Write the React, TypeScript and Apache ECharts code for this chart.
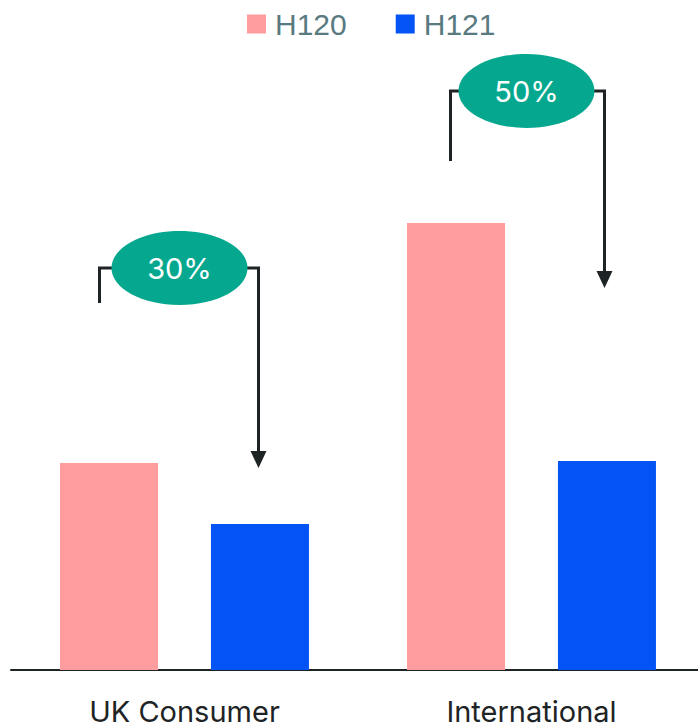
import React, { useEffect, useRef } from "react";
import * as echarts from "echarts";

// Segments and half-year values
const categories = ["UK Consumer", "International"];
const seriesNames = ["H120", "H121"];
const h120 = [207, 447];
const h121 = [146, 209];

// Change callouts per segment
const changeLabels = ["30%", "50%"];
const calloutLevel = [402, 579]; // height of the bracket / ellipse centre
const calloutStart = [367, 509]; // bottom of the left leg
const arrowEnd = [202, 382]; // arrow tip value

const PINK = "#ff9c9e";
const BLUE = "#0353f5";
const TEAL = "#05a88e";
const INK = "#1e2426";
const FONT = "Inter, 'Noto Sans', sans-serif";
const LEGEND_FONT = "'Liberation Sans', Arial, sans-serif";

export default function App() {
  const ref = useRef<HTMLDivElement>(null);

  useEffect(() => {
    if (!ref.current) return;
    const chart = echarts.init(ref.current, undefined, { renderer: "svg" });

    chart.setOption({
      animation: false,
      legend: {
        top: 9,
        left: 247,
        padding: 0,
        icon: "rect",
        itemWidth: 19,
        itemHeight: 19,
        itemGap: 49,
        data: seriesNames,
        textStyle: {
          fontFamily: LEGEND_FONT,
          fontSize: 30,
          lineHeight: 29,
          color: "#587a80",
          padding: [0, 0, 0, 4],
        },
      },
      grid: {
        left: 11,
        right: -7,
        top: 70,
        bottom: 58,
        containLabel: false,
        outerBoundsMode: "none",
      },
      xAxis: {
        type: "category",
        data: categories,
        axisTick: { show: false },
        axisLine: { lineStyle: { color: INK, width: 2 } },
        axisLabel: {
          fontFamily: FONT,
          fontSize: 29,
          color: INK,
          margin: 27,
        },
      },
      yAxis: {
        type: "value",
        min: 0,
        max: 600,
        show: false,
        splitLine: { show: false },
      },
      series: [
        {
          name: seriesNames[0],
          type: "bar",
          data: h120,
          barWidth: 98,
          barGap: "54%",
          itemStyle: { color: PINK },
        },
        {
          name: seriesNames[1],
          type: "bar",
          data: h121,
          barWidth: 98,
          barGap: "54%",
          itemStyle: { color: BLUE },
        },
      ],
    });

    // Callouts: bracket from the H120 bar up to a badge, then an arrow down towards H121
    const elements: any[] = [];
    const lineStyle = { stroke: INK, lineWidth: 3, fill: "none" };
    categories.forEach((cat, i) => {
      const pivot = chart.convertToPixel({ xAxisIndex: 0, yAxisIndex: 0 }, [cat, calloutLevel[i]]) as number[];
      const cx = pivot[0];
      const cy = pivot[1];
      const startY = chart.convertToPixel({ yAxisIndex: 0 }, calloutStart[i]) as number;
      const endY = chart.convertToPixel({ yAxisIndex: 0 }, arrowEnd[i]) as number;
      const leftX = cx - 85 + (i === 1 ? 4 : 0);
      const rightX = cx + 74 + (i === 1 ? -1 : 0);
      const ex = cx - 5;
      const rx = 68;
      const ry = 37;
      elements.push({
        type: "polyline",
        shape: { points: [[leftX, startY], [leftX, cy], [ex - rx + 2, cy]] },
        style: lineStyle,
      });
      elements.push({
        type: "polyline",
        shape: { points: [[ex + rx - 2, cy], [rightX, cy], [rightX, endY - 16]] },
        style: lineStyle,
      });
      elements.push({
        type: "polygon",
        shape: { points: [[rightX - 8, endY - 17], [rightX + 8, endY - 17], [rightX, endY]] },
        style: { fill: INK },
      });
      elements.push({
        type: "ellipse",
        shape: { cx: ex, cy, rx, ry },
        style: { fill: TEAL },
      });
      elements.push({
        type: "text",
        x: ex,
        y: cy,
        style: {
          text: changeLabels[i],
          fill: "#ffffff",
          font: `29px ${FONT}`,
          align: "center",
          verticalAlign: "middle",
        },
      });
    });
    chart.setOption({ graphic: { elements } });

    return () => chart.dispose();
  }, []);

  return (
    <div
      ref={ref}
      style={{ position: "absolute", left: 0, top: 0, width: 698, height: 728 }}
    />
  );
}
